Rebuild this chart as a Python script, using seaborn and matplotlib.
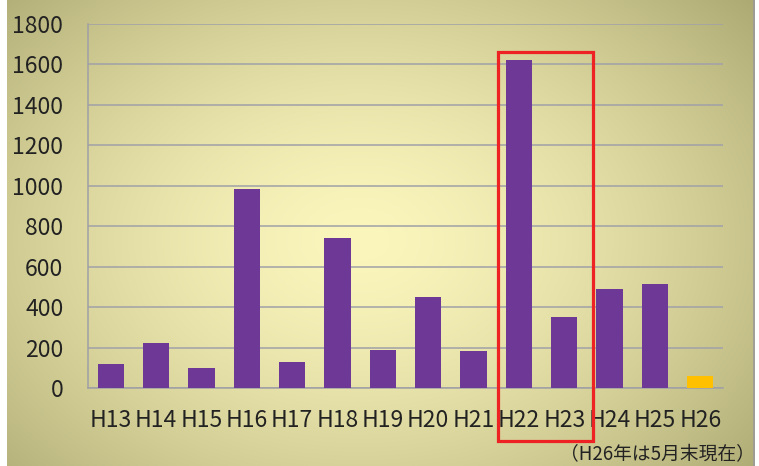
import numpy as np
import pandas as pd
import matplotlib
matplotlib.use("Agg")
import matplotlib.pyplot as plt
from matplotlib.patches import Rectangle
import seaborn as sns

# Yearly counts, H13 through H26 (H26 only up to the end of May)
years = ["H13", "H14", "H15", "H16", "H17", "H18", "H19",
         "H20", "H21", "H22", "H23", "H24", "H25", "H26"]
counts = [118, 224, 97, 985, 127, 742, 190,
          450, 181, 1622, 350, 488, 513, 59]
bar_colors = ["#6E3996"] * 13 + ["#FFC000"]
y_ticks = [0, 200, 400, 600, 800, 1000, 1200, 1400, 1600, 1800]
note = "（H26年は5月末現在）"

sns.set_theme(style="white")
plt.rcParams["font.family"] = ["Noto Sans CJK JP", "DejaVu Sans"]

W, H = 759, 466
fig = plt.figure(figsize=(W / 100, H / 100), dpi=100)
fig.patch.set_facecolor("white")

# Radial gradient backdrop: pale yellow in the middle, olive at the edges
bg = fig.add_axes([7 / W, 0, (755 - 7) / W, 1])
bg.set_axis_off()
yy, xx = np.mgrid[0:H, 7:755]
r = np.sqrt(((xx - 360) / 560.0) ** 2 + ((yy - 240) / 400.0) ** 2)
r = np.clip(r, 0, 1) ** 1.5
inner = np.array([250, 246, 188]) / 255.0
outer = np.array([164, 160, 106]) / 255.0
img = inner[None, None, :] * (1 - r[..., None]) + outer[None, None, :] * r[..., None]
bg.imshow(img, aspect="auto", extent=[0, 1, 0, 1], origin="upper")
bg.set_xlim(0, 1)
bg.set_ylim(0, 1)
bg.axvline(0.998, color="#9A9A9A", lw=1.2)

ax = fig.add_axes([88 / W, 1 - 388 / H, (723 - 88) / W, (388 - 24) / H])
ax.set_facecolor("none")

df = pd.DataFrame({"year": years, "count": counts})
sns.barplot(data=df, x="year", y="count", hue="year", palette=bar_colors,
            legend=False, width=0.58, ax=ax, saturation=1,
            linewidth=0, zorder=3)

ax.set_xlim(-0.5, len(years) - 0.5)
ax.set_ylim(0, 1800)
ax.set_yticks(y_ticks)
ax.set_yticklabels([str(v) for v in y_ticks], fontsize=16.5, color="#222222")
ax.set_xticks(range(len(years)))
ax.set_xticklabels(years, fontsize=16.5, color="#222222")
ax.set_xticks(np.arange(-0.5, len(years), 1.0), minor=True)
ax.tick_params(axis="x", which="major", length=0, pad=15)
ax.tick_params(axis="x", which="minor", length=5, width=1.1, color="#A0A0A6")
ax.tick_params(axis="y", which="major", length=5.8, width=1.1, color="#A0A0A6", pad=12)
ax.set_xlabel("")
ax.set_ylabel("")

ax.grid(axis="y", color="#A0A0A8", lw=1.1, zorder=0)
ax.set_axisbelow(True)
for side in ["top", "right"]:
    ax.spines[side].set_visible(False)
for side in ["left", "bottom"]:
    ax.spines[side].set_color("#A0A0A6")
    ax.spines[side].set_linewidth(1.1)

# Red frame around H22 and H23
x0 = 9 - 0.46
x1 = 10 + 0.63
frame = Rectangle((x0, -262), x1 - x0, 1662 + 262, fill=False,
                  edgecolor="#EE2222", lw=2.3, clip_on=False, zorder=5)
ax.add_patch(frame)

fig.text(755 / W, 1 - 455 / H, note, ha="right", va="center",
         fontsize=13.5, color="#222222")

fig.savefig("out.png", dpi=100, facecolor=fig.get_facecolor())
